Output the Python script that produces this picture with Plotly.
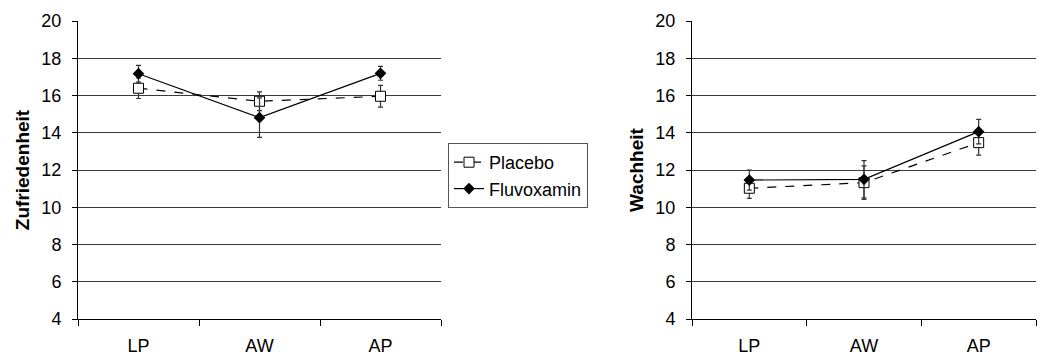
import plotly.graph_objects as go

# Messzeitpunkte
categories = ["LP", "AW", "AP"]

# Zufriedenheit (Mittelwerte und Standardfehler)
zuf_placebo = [16.39, 15.69, 15.96]
zuf_placebo_err = [0.55, 0.50, 0.58]
zuf_fluvox = [17.17, 14.81, 17.19]
zuf_fluvox_err = [0.45, 1.06, 0.37]

# Wachheit (Mittelwerte und Standardfehler)
wach_placebo = [11.02, 11.32, 13.47]
wach_placebo_err = [0.54, 0.90, 0.67]
wach_fluvox = [11.46, 11.50, 14.06]
wach_fluvox_err = [0.54, 1.00, 0.66]

y_ticks = [4, 6, 8, 10, 12, 14, 16, 18, 20]

FONT = "Liberation Sans, Arial, Helvetica, sans-serif"
W, H = 1043, 356
L, R, T, B = 78, 1036, 21, 319  # Plotbereich in Pixeln

fig = go.Figure()


def add_panel(xaxis, yaxis, placebo, placebo_err, fluvox, fluvox_err, show_legend):
    fig.add_trace(go.Scatter(
        x=categories, y=placebo, name="Placebo", mode="lines+markers",
        xaxis=xaxis, yaxis=yaxis, showlegend=show_legend,
        line=dict(color="black", width=1.2, dash="dash"),
        marker=dict(symbol="square", size=10, color="white",
                    line=dict(color="black", width=1)),
        error_y=dict(type="data", array=placebo_err, color="#333333",
                     thickness=1.2, width=2.5),
    ))
    fig.add_trace(go.Scatter(
        x=categories, y=fluvox, name="Fluvoxamin", mode="lines+markers",
        xaxis=xaxis, yaxis=yaxis, showlegend=show_legend,
        line=dict(color="black", width=1.2),
        marker=dict(symbol="diamond", size=9, color="black",
                    line=dict(color="black", width=0)),
        error_y=dict(type="data", array=fluvox_err, color="#333333",
                     thickness=1.2, width=2.5),
    ))


add_panel("x", "y", zuf_placebo, zuf_placebo_err, zuf_fluvox, zuf_fluvox_err, True)
add_panel("x2", "y2", wach_placebo, wach_placebo_err, wach_fluvox, wach_fluvox_err, False)

dom1 = [0, (441 - L) / (R - L)]
dom2 = [(692 - L) / (R - L), 1]

xaxis_style = dict(
    type="category", categoryorder="array", categoryarray=categories,
    range=[-0.5, 2.5], tickson="boundaries", ticks="outside", ticklen=6,
    tickcolor="black", tickwidth=1, showline=True, linecolor="black",
    linewidth=1, showgrid=False, zeroline=False, automargin=False,
    tickfont=dict(family=FONT, size=18, color="black"),
    ticklabelstandoff=10,
)
yaxis_style = dict(
    range=[4, 20], tickvals=y_ticks, ticks="outside", ticklen=5,
    tickcolor="black", tickwidth=1, showline=True, linecolor="black",
    linewidth=1, showgrid=True, gridcolor="#3a3a3a", gridwidth=1,
    zeroline=False, automargin=False,
    tickfont=dict(family=FONT, size=18, color="black"),
    ticklabelstandoff=7,
)

fig.update_layout(
    width=W, height=H,
    margin=dict(l=L, r=W - R, t=T, b=H - B, autoexpand=False),
    paper_bgcolor="white", plot_bgcolor="white",
    font=dict(family=FONT, size=18, color="black"),
    xaxis=dict(domain=dom1, **xaxis_style),
    xaxis2=dict(domain=dom2, **xaxis_style),
    yaxis=dict(title=dict(text="<b>Zufriedenheit</b>", standoff=6,
                          font=dict(family=FONT, size=19)), **yaxis_style),
    yaxis2=dict(anchor="x2", title=dict(text="<b>Wachheit</b>", standoff=6,
                                        font=dict(family=FONT, size=19)),
                **yaxis_style),
    legend=dict(
        x=(448 - L) / (R - L), y=1 - (143 - T) / (B - T),
        xref="paper", yref="paper", xanchor="left", yanchor="top",
        bordercolor="#555555", borderwidth=1, bgcolor="white",
        font=dict(family=FONT, size=18, color="black"),
        itemwidth=30, tracegroupgap=0,
    ),
    showlegend=True,
)

fig.write_html("out.html")
